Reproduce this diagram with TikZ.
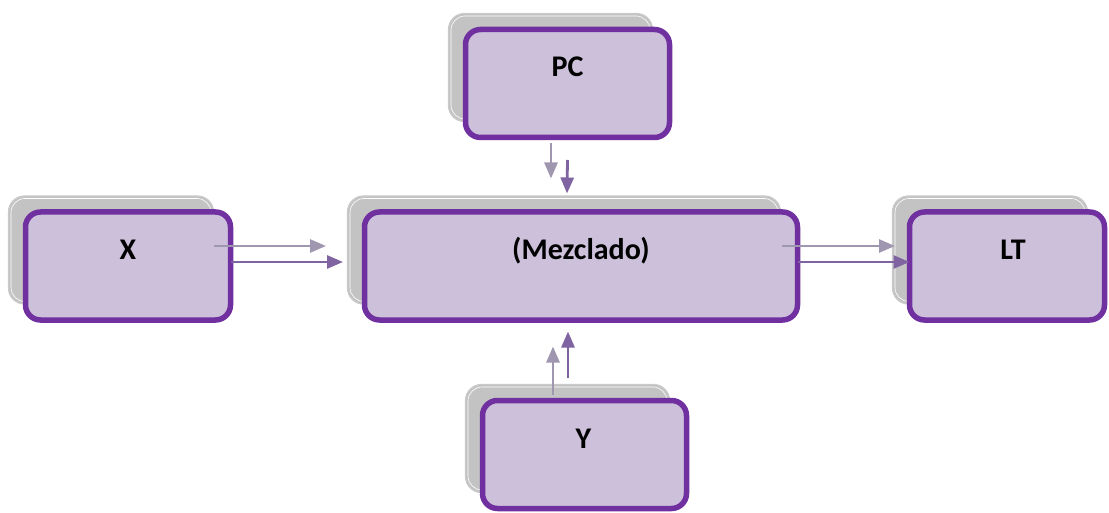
\documentclass[tikz,border=0pt]{standalone}
\usepackage{fontspec}
\setmainfont{Carlito}
\usetikzlibrary{calc,arrows.meta,backgrounds}
\definecolor{boxfill}{HTML}{CCC0DA}
\definecolor{boxline}{HTML}{7030A0}
\definecolor{shadowfill}{HTML}{C3C3C3}
\definecolor{shadowline}{HTML}{CACACA}
\definecolor{grayarrow}{HTML}{9F97AF}
\definecolor{purparrow}{HTML}{8064A2}
\tikzset{
  procbox/.style={draw=boxline, fill=boxfill, line width=5.5pt, rounded corners=15pt,
    outer sep=0pt, inner sep=0pt, minimum height=108pt},
  lab/.style={font=\fontsize{30}{36}\selectfont\bfseries, anchor=base, inner sep=0pt},
  garrow/.style={draw=grayarrow, line width=2.8pt, -{Triangle[length=16pt,width=13pt]}},
  parrow/.style={draw=purparrow, line width=2.8pt, -{Triangle[length=16pt,width=13pt]}},
}
\newcommand{\shadowbox}[1]{%
  \fill[shadowfill, draw=shadowline, line width=1.2pt, rounded corners=16pt]
    ($(#1.north west)+(-17,-16)$) rectangle ($(#1.south east)+(-17,-16)$);
  \draw[white, line width=0.6pt, rounded corners=14pt]
    ($(#1.north west)+(-14.5,-13.5)$) rectangle ($(#1.south east)+(-19.5,-18.5)$);
}
\begin{document}
\begin{tikzpicture}[x=1pt,y=-1pt]
\useasboundingbox (0,0) rectangle (1109,513);
% front boxes
\node[procbox, minimum width=204pt] (pc) at (567.5,83.5) {};
\node[procbox, minimum width=205pt] (x) at (128,266) {};
\node[procbox, minimum width=433pt] (mez) at (581,266) {};
\node[procbox, minimum width=195pt] (lt) at (1007,266) {};
\node[procbox, minimum width=204pt] (y) at (584.5,454.5) {};
% shadows
\begin{pgfonlayer}{background}
\shadowbox{pc}
\shadowbox{x}
\shadowbox{mez}
\shadowbox{lt}
\shadowbox{y}
\end{pgfonlayer}
% labels
\node[lab] (pct) at ($(pc.north)+(0,47.5)$) {PC};
\node[lab] (xt) at ($(x.north)+(0,47.5)$) {X};
\node[lab] (mezt) at ($(mez.north)+(0,47.5)$) {(Mezclado)};
\node[lab] (ltt) at ($(lt.north)+(6,47.5)$) {LT};
\node[lab] (yt) at ($(y.north)+(-1,47.5)$) {Y};
% connectors
\draw[garrow] ($(x.east)+(-16.5,-20)$) -- ($(mez.west)+(-38.5,-20)$);
\draw[parrow] ($(x.east)+(0,-4)$) -- ($(mez.west)+(-21.5,-4)$);
\draw[garrow] ($(mez.east)+(-15.5,-20)$) -- ($(lt.west)+(-14.5,-20)$);
\draw[parrow] ($(mez.east)+(0,-4)$) -- ($(lt.west)+(0,-4)$);
\draw[garrow] ($(pc.south)+(-16.5,5.5)$) -- ($(mez.north)+(-30,-33.5)$);
\draw[parrow] ($(pc.south)+(0,22.5)$) -- ($(mez.north)+(-14,-18.5)$);
\draw[garrow] ($(y.north)+(-31.5,-5.5)$) -- ($(mez.south)+(-28,26.5)$);
\draw[parrow] ($(y.north)+(-16.5,-22.5)$) -- ($(mez.south)+(-13,11.5)$);
\end{tikzpicture}
\end{document}
